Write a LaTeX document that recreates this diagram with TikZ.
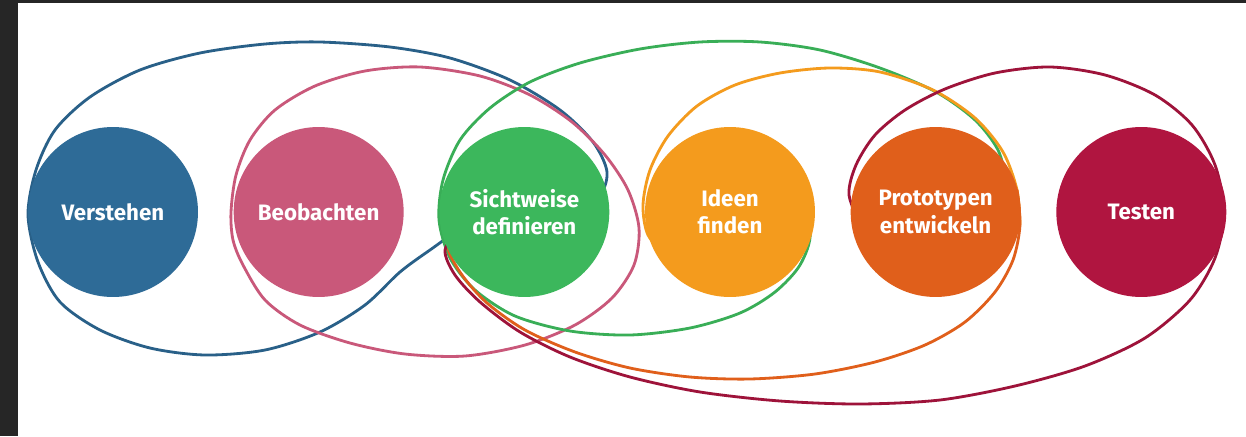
\documentclass[tikz,border=0pt]{standalone}
\usepackage{fontspec}
\setmainfont{Fira Sans}
\usetikzlibrary{positioning}

\definecolor{framegray}{HTML}{262626}
\definecolor{verstehenblue}{HTML}{2E6B97}
\definecolor{beobachtenpink}{HTML}{C9587A}
\definecolor{sichtgreen}{HTML}{3CB75C}
\definecolor{ideenorange}{HTML}{F49B1D}
\definecolor{protoorange}{HTML}{E05F1B}
\definecolor{testencrimson}{HTML}{B01540}

\tikzset{
  phase/.style={circle, minimum size=3.4cm, inner sep=0pt, text=white,
    font=\bfseries\fontsize{12.7}{15.5}\selectfont, align=center},
  loopline/.style={line width=1.6pt, line cap=round},
}

\begin{document}
\begin{tikzpicture}[x=0.02cm, y=-0.02cm]
  % frame
  \fill[framegray] (0,0) rectangle (1246,436);
  \fill[white] (18,3) rectangle (1246,436);
  \useasboundingbox (0,0) rectangle (1246,436);

  % loops (behind the circles)
  \draw[loopline, verstehenblue!90!black] plot[smooth cycle] coordinates {
    (28,215) (36,170) (55,130) (90,97) (140,70) (200,53) (265,44) (320,42)
    (390,47) (450,58) (510,80) (560,110) (593,142) (607,172) (598,196)
    (560,205) (500,215) (460,230) (430,250) (400,272) (365,305) (320,332)
    (265,350) (205,355) (150,348) (100,330) (60,302) (38,262)};
  \draw[loopline, beobachtenpink] plot[smooth cycle] coordinates {
    (231,212) (236,175) (250,140) (275,110) (315,86) (365,71) (420,67)
    (480,76) (530,95) (572,122) (605,155) (628,190) (639,228) (634,265)
    (612,298) (575,325) (525,345) (465,356) (405,354) (350,343) (300,325)
    (265,300) (243,265) (233,240)};
  \draw[loopline, sichtgreen!95!black] plot[smooth] coordinates {
    (790,195) (810,232) (800,265) (775,292) (740,313) (690,328) (630,335)
    (570,331) (515,316) (475,290) (450,258) (439,220) (443,180) (460,140)
    (490,108) (530,82) (580,63) (640,49) (700,42) (760,42) (820,50)
    (880,68) (936,92) (975,120) (998,150) (1005,180) (998,200)};
  \draw[loopline, ideenorange] plot[smooth] coordinates {
    (668,258) (648,235) (643,205) (650,170) (668,136) (697,106) (735,85)
    (780,73) (830,68) (880,72) (933,90) (975,118) (1003,152) (1017,190)
    (1020,225)};
  \draw[loopline, protoorange] plot[smooth] coordinates {
    (1017,190) (1020,225) (1013,260) (995,292) (965,322) (925,345)
    (875,362) (815,374) (750,379) (690,377) (630,368) (575,352) (525,330)
    (487,303) (462,275) (448,248) (455,225)};
  \draw[loopline, testencrimson!90!black] plot[smooth] coordinates {
    (460,228) (445,250) (455,275) (480,302) (520,332) (570,357) (630,377)
    (700,392) (780,401) (860,404) (940,400) (1015,386) (1085,366)
    (1145,338) (1190,300) (1215,258) (1224,212) (1215,165) (1192,125)
    (1155,95) (1105,75) (1050,67) (995,73) (945,89) (905,110) (875,135)
    (856,165) (849,195) (862,228)};

  % phases
  \node[phase, fill=verstehenblue] (verstehen) at (113,212) {Verstehen};
  \node[phase, fill=beobachtenpink, right=0.7cm of verstehen] (beobachten) {Beobachten};
  \node[phase, fill=sichtgreen, right=0.7cm of beobachten] (sichtweise) {Sichtweise\\definieren};
  \node[phase, fill=ideenorange, right=0.7cm of sichtweise] (ideen) {Ideen\\finden};
  \node[phase, fill=protoorange, right=0.7cm of ideen] (prototypen) {Prototypen\\entwickeln};
  \node[phase, fill=testencrimson, right=0.7cm of prototypen] (testen) {Testen};
\end{tikzpicture}
\end{document}
